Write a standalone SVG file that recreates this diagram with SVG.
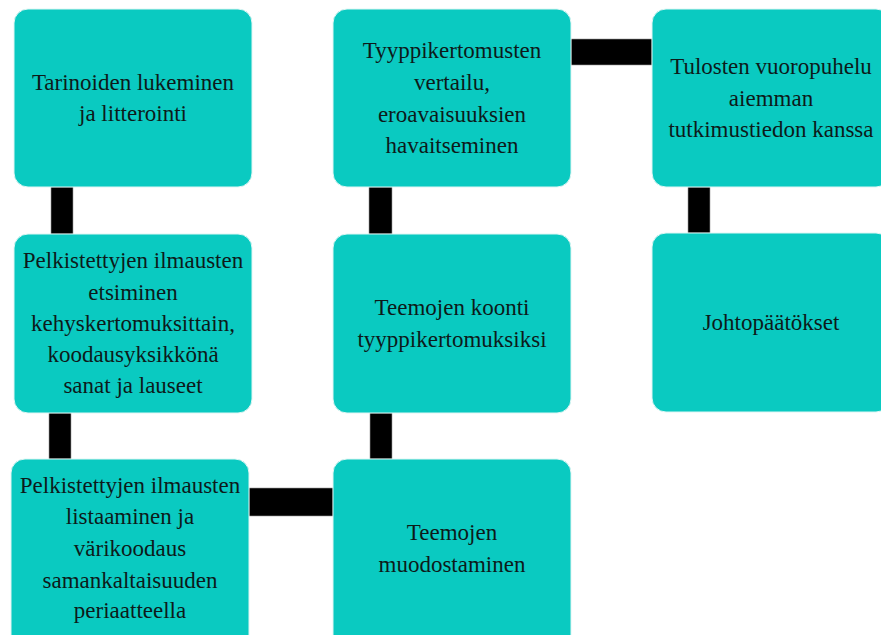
<svg xmlns="http://www.w3.org/2000/svg" width="881" height="635" viewBox="0 0 881 635">
<style>
.box{fill:#0ACAC1;stroke:#dff6f4;stroke-width:1}
.con{fill:#000;stroke:#9a9a9a;stroke-width:0.6}
text{font-family:"Liberation Serif","Times New Roman",serif;font-size:23px;fill:#0d1a1a;text-anchor:middle}
</style>
<rect width="881" height="635" fill="#fff"/>
<g id="connectors">
<rect class="con" x="51" y="187" width="22" height="47"/>
<rect class="con" x="49" y="413" width="22" height="46"/>
<rect class="con" x="249" y="488" width="84" height="28"/>
<rect class="con" x="370" y="413" width="22" height="46"/>
<rect class="con" x="369" y="187" width="23" height="47"/>
<rect class="con" x="571" y="39" width="81" height="26"/>
<rect class="con" x="688" y="187" width="22" height="46"/>
</g>
<g id="n1">
<rect class="box" x="14" y="9" width="238" height="178" rx="14"/>
<text x="133" y="90">Tarinoiden  lukeminen</text>
<text x="133" y="121">ja litterointi</text>
</g>
<g id="n2">
<rect class="box" x="14" y="234" width="238" height="179" rx="14"/>
<text x="133" y="268">Pelkistettyjen ilmausten</text>
<text x="133" y="300">etsiminen</text>
<text x="133" y="331">kehyskertomuksittain,</text>
<text x="133" y="362">koodausyksikkönä</text>
<text x="133" y="393">sanat ja lauseet</text>
</g>
<g id="n3">
<rect class="box" x="11" y="459" width="238" height="190" rx="14"/>
<text x="130" y="493">Pelkistettyjen ilmausten</text>
<text x="130" y="524">listaaminen ja</text>
<text x="130" y="556">värikoodaus</text>
<text x="130" y="588">samankaltaisuuden</text>
<text x="130" y="618">periaatteella</text>
</g>
<g id="n4">
<rect class="box" x="333" y="459" width="238" height="190" rx="14"/>
<text x="452" y="540">Teemojen</text>
<text x="452" y="572">muodostaminen</text>
</g>
<g id="n5">
<rect class="box" x="333" y="234" width="238" height="179" rx="14"/>
<text x="452" y="315">Teemojen koonti</text>
<text x="452" y="347">tyyppikertomuksiksi</text>
</g>
<g id="n6">
<rect class="box" x="333" y="9" width="238" height="178" rx="14"/>
<text x="452" y="58">Tyyppikertomusten</text>
<text x="452" y="90">vertailu,</text>
<text x="452" y="122">eroavaisuuksien</text>
<text x="452" y="153">havaitseminen</text>
</g>
<g id="n7">
<rect class="box" x="652" y="9" width="238" height="178" rx="14"/>
<text x="771" y="74">Tulosten vuoropuhelu</text>
<text x="771" y="106">aiemman</text>
<text x="771" y="137">tutkimustiedon kanssa</text>
</g>
<g id="n8">
<rect class="box" x="652" y="233" width="238" height="179" rx="14"/>
<text x="771" y="330">Johtopäätökset</text>
</g>
</svg>
